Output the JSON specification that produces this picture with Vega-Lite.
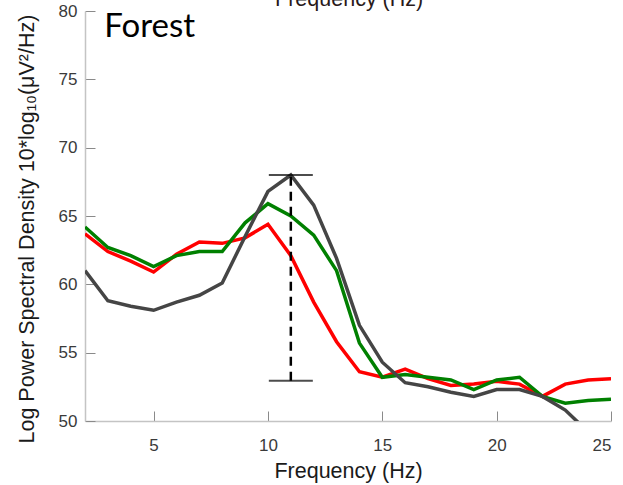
{
  "$schema": "https://vega.github.io/schema/vega-lite/v6.json",
  "width": 526,
  "height": 410,
  "autosize": {"type": "none"},
  "padding": {"left": 85, "top": 11, "right": 12, "bottom": 64},
  "background": "white",
  "config": {
    "view": {"stroke": null},
    "font": "Liberation Sans",
    "axis": {
      "grid": false,
      "domainColor": "#c4c4c4",
      "domainWidth": 1.5,
      "tickColor": "#8a8a8a",
      "tickSize": -10,
      "tickWidth": 1,
      "labelFont": "Liberation Sans",
      "labelFontSize": 17,
      "labelColor": "#3a3a3a",
      "titleFont": "Liberation Sans",
      "titleFontSize": 21.5,
      "titleFontWeight": "normal",
      "titleColor": "#1a1a1a"
    }
  },
  "datasets": {
    "psd": [
      {"freq": 2, "psd": 63.7, "cond": "red"},
      {"freq": 3, "psd": 62.4, "cond": "red"},
      {"freq": 4, "psd": 61.7, "cond": "red"},
      {"freq": 5, "psd": 60.9, "cond": "red"},
      {"freq": 6, "psd": 62.2, "cond": "red"},
      {"freq": 7, "psd": 63.1, "cond": "red"},
      {"freq": 8, "psd": 63.0, "cond": "red"},
      {"freq": 9, "psd": 63.4, "cond": "red"},
      {"freq": 10, "psd": 64.4, "cond": "red"},
      {"freq": 11, "psd": 62.1, "cond": "red"},
      {"freq": 12, "psd": 58.7, "cond": "red"},
      {"freq": 13, "psd": 55.8, "cond": "red"},
      {"freq": 14, "psd": 53.6, "cond": "red"},
      {"freq": 15, "psd": 53.2, "cond": "red"},
      {"freq": 16, "psd": 53.8, "cond": "red"},
      {"freq": 17, "psd": 53.1, "cond": "red"},
      {"freq": 18, "psd": 52.6, "cond": "red"},
      {"freq": 19, "psd": 52.7, "cond": "red"},
      {"freq": 20, "psd": 52.9, "cond": "red"},
      {"freq": 21, "psd": 52.7, "cond": "red"},
      {"freq": 22, "psd": 51.8, "cond": "red"},
      {"freq": 23, "psd": 52.7, "cond": "red"},
      {"freq": 24, "psd": 53.0, "cond": "red"},
      {"freq": 25, "psd": 53.1, "cond": "red"},
      {"freq": 2, "psd": 64.2, "cond": "green"},
      {"freq": 3, "psd": 62.7, "cond": "green"},
      {"freq": 4, "psd": 62.1, "cond": "green"},
      {"freq": 5, "psd": 61.3, "cond": "green"},
      {"freq": 6, "psd": 62.1, "cond": "green"},
      {"freq": 7, "psd": 62.4, "cond": "green"},
      {"freq": 8, "psd": 62.4, "cond": "green"},
      {"freq": 9, "psd": 64.5, "cond": "green"},
      {"freq": 10, "psd": 65.9, "cond": "green"},
      {"freq": 11, "psd": 65.0, "cond": "green"},
      {"freq": 12, "psd": 63.6, "cond": "green"},
      {"freq": 13, "psd": 61.0, "cond": "green"},
      {"freq": 14, "psd": 55.7, "cond": "green"},
      {"freq": 15, "psd": 53.2, "cond": "green"},
      {"freq": 16, "psd": 53.4, "cond": "green"},
      {"freq": 17, "psd": 53.2, "cond": "green"},
      {"freq": 18, "psd": 53.0, "cond": "green"},
      {"freq": 19, "psd": 52.3, "cond": "green"},
      {"freq": 20, "psd": 53.0, "cond": "green"},
      {"freq": 21, "psd": 53.2, "cond": "green"},
      {"freq": 22, "psd": 51.8, "cond": "green"},
      {"freq": 23, "psd": 51.3, "cond": "green"},
      {"freq": 24, "psd": 51.5, "cond": "green"},
      {"freq": 25, "psd": 51.6, "cond": "green"},
      {"freq": 2, "psd": 61.0, "cond": "gray"},
      {"freq": 3, "psd": 58.8, "cond": "gray"},
      {"freq": 4, "psd": 58.4, "cond": "gray"},
      {"freq": 5, "psd": 58.1, "cond": "gray"},
      {"freq": 6, "psd": 58.7, "cond": "gray"},
      {"freq": 7, "psd": 59.2, "cond": "gray"},
      {"freq": 8, "psd": 60.1, "cond": "gray"},
      {"freq": 9, "psd": 63.5, "cond": "gray"},
      {"freq": 10, "psd": 66.8, "cond": "gray"},
      {"freq": 11, "psd": 68.0, "cond": "gray"},
      {"freq": 12, "psd": 65.8, "cond": "gray"},
      {"freq": 13, "psd": 61.9, "cond": "gray"},
      {"freq": 14, "psd": 57.0, "cond": "gray"},
      {"freq": 15, "psd": 54.3, "cond": "gray"},
      {"freq": 16, "psd": 52.8, "cond": "gray"},
      {"freq": 17, "psd": 52.5, "cond": "gray"},
      {"freq": 18, "psd": 52.1, "cond": "gray"},
      {"freq": 19, "psd": 51.8, "cond": "gray"},
      {"freq": 20, "psd": 52.3, "cond": "gray"},
      {"freq": 21, "psd": 52.3, "cond": "gray"},
      {"freq": 22, "psd": 51.8, "cond": "gray"},
      {"freq": 23, "psd": 50.8, "cond": "gray"},
      {"freq": 24, "psd": 49.2, "cond": "gray"}
    ],
    "err": [{"freq": 11, "lo": 52.95, "hi": 68.0}],
    "caps": [{"freq": 11, "psd": 52.95}, {"freq": 11, "psd": 68.0}],
    "labels": [{"label": "Forest"}],
    "toptitle": [{"label": "Frequency (Hz)"}]
  },
  "layer": [
    {
      "data": {"name": "psd"},
      "mark": {"type": "line", "strokeWidth": 3.5, "clip": true},
      "encoding": {
        "x": {
          "field": "freq", "type": "quantitative",
          "scale": {"domain": [2, 25], "nice": false, "zero": false},
          "axis": {"values": [5, 10, 15, 20, 25], "title": "Frequency (Hz)", "labelPadding": 26, "titleY": 56, "titleBaseline": "alphabetic"}
        },
        "y": {
          "field": "psd", "type": "quantitative",
          "scale": {"domain": [50, 80], "nice": false, "zero": false},
          "axis": {"values": [50, 55, 60, 65, 70, 75, 80], "title": "Log Power Spectral Density 10*log₁₀(μV²/Hz)", "labelPadding": 18, "titleX": -52, "titleY": 432, "titleAlign": "left", "titleAngle": -90, "titleBaseline": "alphabetic"}
        },
        "color": {"field": "cond", "type": "nominal", "scale": {"domain": ["red", "green", "gray"], "range": ["#ff0000", "#008000", "#454545"]}, "legend": null},
        "order": {"field": "freq"}
      }
    },
    {
      "data": {"name": "err"},
      "mark": {"type": "rule", "color": "black", "strokeWidth": 2.5, "strokeDash": [9, 6]},
      "encoding": {
        "x": {"field": "freq", "type": "quantitative"},
        "y": {"field": "lo", "type": "quantitative"},
        "y2": {"field": "hi"}
      }
    },
    {
      "data": {"name": "caps"},
      "mark": {"type": "tick", "orient": "horizontal", "color": "black", "size": 44, "thickness": 2},
      "encoding": {
        "x": {"field": "freq", "type": "quantitative"},
        "y": {"field": "psd", "type": "quantitative"}
      }
    },
    {
      "data": {"name": "labels"},
      "mark": {"type": "text", "font": "Lato", "fontSize": 33, "fill": "black", "align": "left", "baseline": "alphabetic"},
      "encoding": {
        "x": {"datum": 2.84, "type": "quantitative"},
        "y": {"datum": 78.1, "type": "quantitative"},
        "text": {"field": "label", "type": "nominal"}
      }
    },
    {
      "data": {"name": "toptitle"},
      "mark": {"type": "text", "font": "Liberation Sans", "fontSize": 21.5, "fill": "#2a1a1a", "align": "center", "baseline": "alphabetic"},
      "encoding": {
        "x": {"datum": 13.55, "type": "quantitative"},
        "y": {"datum": 80.4, "type": "quantitative"},
        "text": {"field": "label", "type": "nominal"}
      }
    }
  ]
}
